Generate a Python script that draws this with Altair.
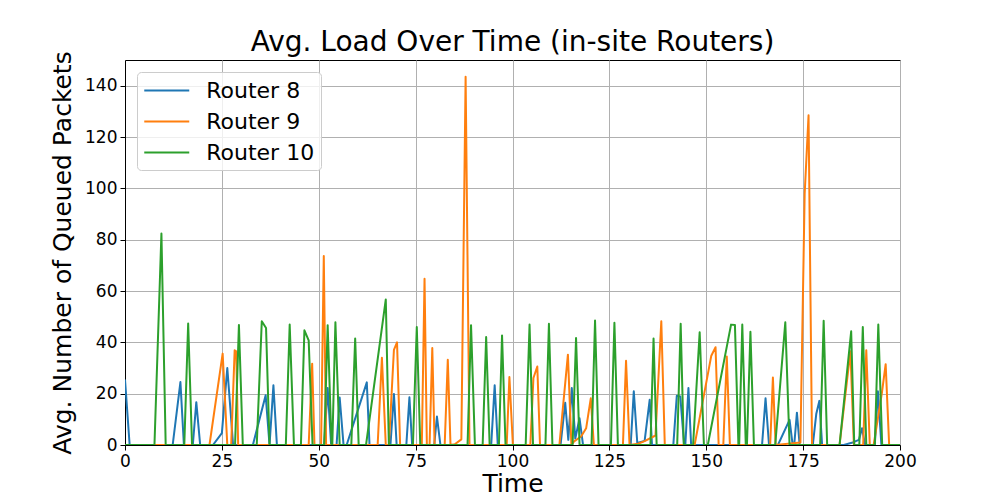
import altair as alt
import pandas as pd

# ---- data ----
r8_t = [0, 1.2, 12.3, 14.3, 15.2, 17.5, 18.4, 19.4, 22.7, 25.0, 26.4, 27.9, 33.0, 36.3, 37.3, 38.3, 39.2,
        51.4, 52.3, 53.2, 54.6, 55.4, 56.4, 57.2, 62.4, 63.1, 68.5, 69.4, 70.1, 72.6, 73.4, 74.1, 79.8, 80.5, 81.4,
        94.5, 95.4, 96.2, 112.4, 113.6, 114.4, 115.3, 116.2, 117.3, 118.2, 130.5, 131.3, 132.2, 134.1, 135.4, 136.0,
        141.5, 142.4, 143.3, 144.3, 144.6, 145.4, 146.1, 164.4, 165.3, 166.2, 168.5, 171.5, 172.3, 172.7, 173.4, 174.1,
        177.5, 178.4, 179.2, 179.9, 185.5, 187.8, 189.4, 190.2, 191.0, 193.5, 194.3, 195.2, 200]
r8_v = [25.5, 0, 0, 24.5, 0, 0, 16.7, 0, 0, 4.6, 30, 0, 0, 19.4, 0, 23.3, 0,
        0, 22.2, 0, 0, 18.5, 0, 0, 24.4, 0, 0, 19.9, 0, 0, 18.6, 0, 0, 11.1, 0,
        0, 23.3, 0, 0, 16.5, 2, 22.2, 2.5, 10.4, 0, 0, 20.9, 0.8, 1.6, 17.6, 0,
        0, 19.2, 18.9, 0, 0, 22.2, 0, 0, 18.2, 0, 0, 9.8, 0, 0, 12.6, 0,
        0, 12.2, 17.2, 0, 0, 1, 2, 6.5, 0, 0, 20.9, 0, 0]

r9_t = [0, 21.8, 25.2, 26.4, 27.4, 28.3, 28.7, 29.2, 47.4, 48.3, 48.9, 50.6, 51.3, 51.9, 65.2, 66.3, 67.3,
        68.1, 69.4, 70.2, 71.0, 76.6, 77.3, 77.9, 78.6, 79.3, 79.9, 82.5, 83.3, 84.0, 85.1, 86.8, 87.9, 88.9,
        98.5, 99.2, 100.1, 104.6, 105.4, 106.4, 107.1, 112.1, 114.3, 115.2, 115.9, 117.7, 119.0, 120.2, 121.0,
        128.5, 129.3, 130.2, 132.4, 134.1, 136.9, 138.4, 139.3, 147.0, 151.3, 152.4, 153.2, 154.4, 155.3, 156.1,
        166.5, 167.2, 167.9, 174.3, 175.4, 176.4, 177.3, 184.4, 187.2, 188.1, 190.5, 191.3, 192.2, 193.2, 195.3,
        196.3, 197.2, 200]
r9_v = [0, 0, 35.6, 0, 0, 36.9, 36.5, 0, 0, 31.7, 0, 0, 73.6, 0, 0, 34, 0,
        0, 37.1, 40.0, 0, 0, 64.8, 0, 0, 37.8, 0, 0, 33.2, 0, 0.3, 2.2, 143.5, 0,
        0, 26.5, 0, 0, 26.1, 30.6, 0, 0, 35.2, 0, 1.4, 3.3, 6.5, 18.2, 0,
        0, 32.8, 0, 0.5, 1.5, 3.7, 48.2, 0, 0, 34.8, 38.1, 0, 0, 34.5, 0,
        0, 26.3, 0, 1, 98, 128.5, 0, 0, 36.5, 0, 0, 36.9, 0, 0, 20,
        31.5, 0, 0]

r10_t = [0, 7.6, 9.4, 10.5, 15.3, 16.3, 17.3, 28.4, 29.4, 30.4, 34.0, 35.3, 36.4, 37.3, 41.5, 42.5, 43.6,
         45.4, 46.3, 47.4, 48.4, 51.4, 52.3, 53.3, 53.5, 54.3, 55.4, 58.4, 59.4, 60.3, 62.2, 67.3, 68.1,
         74.3, 75.3, 76.2, 88.4, 89.3, 90.3, 92.3, 93.2, 94.1, 96.5, 97.3, 98.2, 103.4, 104.4, 105.3,
         108.5, 109.4, 110.3, 115.5, 116.4, 117.3, 120.4, 121.3, 122.2, 125.4, 126.3, 127.2, 135.6, 136.4, 137.2,
         142.5, 143.4, 144.2, 146.6, 148.3, 149.4, 150.4, 156.4, 157.4, 158.3, 158.5, 159.3, 160.2, 160.5, 161.4,
         162.3, 167.8, 170.4, 171.5, 179.4, 180.3, 181.2, 184.4, 187.4, 188.2, 189.5, 190.4, 191.3, 193.5, 194.4,
         195.4, 200]
r10_v = [0, 0, 82.4, 0, 0, 47.3, 0, 0, 46.8, 0, 0, 48.2, 45.6, 0, 0, 46.9, 0,
         0, 44.7, 40.8, 0, 0, 46.7, 0, 0, 47.8, 0, 0, 41.5, 0, 0, 56.7, 0,
         0, 46, 0, 0, 46.7, 0, 0, 42.1, 0, 0, 42.7, 0, 0, 46.9, 0,
         0, 47.2, 0, 0, 41.7, 0, 0, 48.5, 0, 0, 47.6, 0, 0, 41.5, 0,
         0, 47.2, 0, 0, 43.9, 0, 0, 46.9, 46.8, 0, 0, 46.9, 0, 0, 44.1,
         0, 0, 47.8, 0, 0, 48.4, 0, 0, 44.3, 0, 0, 46, 0, 0, 46.9,
         0, 0]

names = ["Router 8", "Router 9", "Router 10"]
colors = ["#1f77b4", "#ff7f0e", "#2ca02c"]
x_ticks = [0, 25, 50, 75, 100, 125, 150, 175, 200]
y_ticks = [0, 20, 40, 60, 80, 100, 120, 140]

rows = []
for name, ts, vs in [(names[0], r8_t, r8_v), (names[1], r9_t, r9_v), (names[2], r10_t, r10_v)]:
    for t, v in zip(ts, vs):
        rows.append({"Time": t, "Load": v, "Router": name})
df = pd.DataFrame(rows)

FONT = "DejaVu Sans"


def series(name):
    return alt.Chart(df).transform_filter(alt.datum.Router == name).mark_line(
        strokeWidth=2, strokeJoin="round", clip=True
    ).encode(
        x=alt.X("Time:Q", scale=alt.Scale(domain=[0, 200], nice=False),
                axis=alt.Axis(values=x_ticks, title="Time", titleBaseline="alphabetic", titleY=46)),
        y=alt.Y("Load:Q", scale=alt.Scale(domain=[0, 150], nice=False),
                axis=alt.Axis(values=y_ticks, title="Avg. Number of Queued Packets", titlePadding=9)),
        color=alt.Color("Router:N", scale=alt.Scale(domain=names, range=colors), title=None),
    )


chart = alt.layer(*[series(n) for n in names]).properties(
    width=775,
    height=385,
    title=alt.TitleParams("Avg. Load Over Time (in-site Routers)", fontSize=28, font=FONT,
                          fontWeight="normal", color="black", offset=-6),
    autosize=alt.AutoSizeParams(type="none"),
    padding={"left": 117, "top": 52, "right": 92, "bottom": 47},
).configure_view(
    stroke="black", strokeWidth=1
).configure_axis(
    grid=True, gridColor="#b0b0b0", gridWidth=1,
    domainColor="black", domainWidth=1, tickColor="black", tickSize=5, tickWidth=1,
    labelFont=FONT, labelFontSize=17, labelColor="black", labelPadding=3,
    labelFlush=False, labelOverlap=False,
    titleFont=FONT, titleFontSize=25, titleFontWeight="normal", titleColor="black",
).configure_legend(
    orient="none", legendX=12, legendY=12, padding=6,
    fillColor="rgba(255,255,255,0.8)", strokeColor="#cccccc", cornerRadius=4,
    symbolType="M-2,0H2", symbolSize=506, symbolStrokeWidth=2, symbolOffset=11.25,
    labelFont=FONT, labelFontSize=22, labelColor="black", labelOffset=27,
    rowPadding=7,
)

chart.save("out.html", embed_options={"renderer": "svg", "actions": False})
